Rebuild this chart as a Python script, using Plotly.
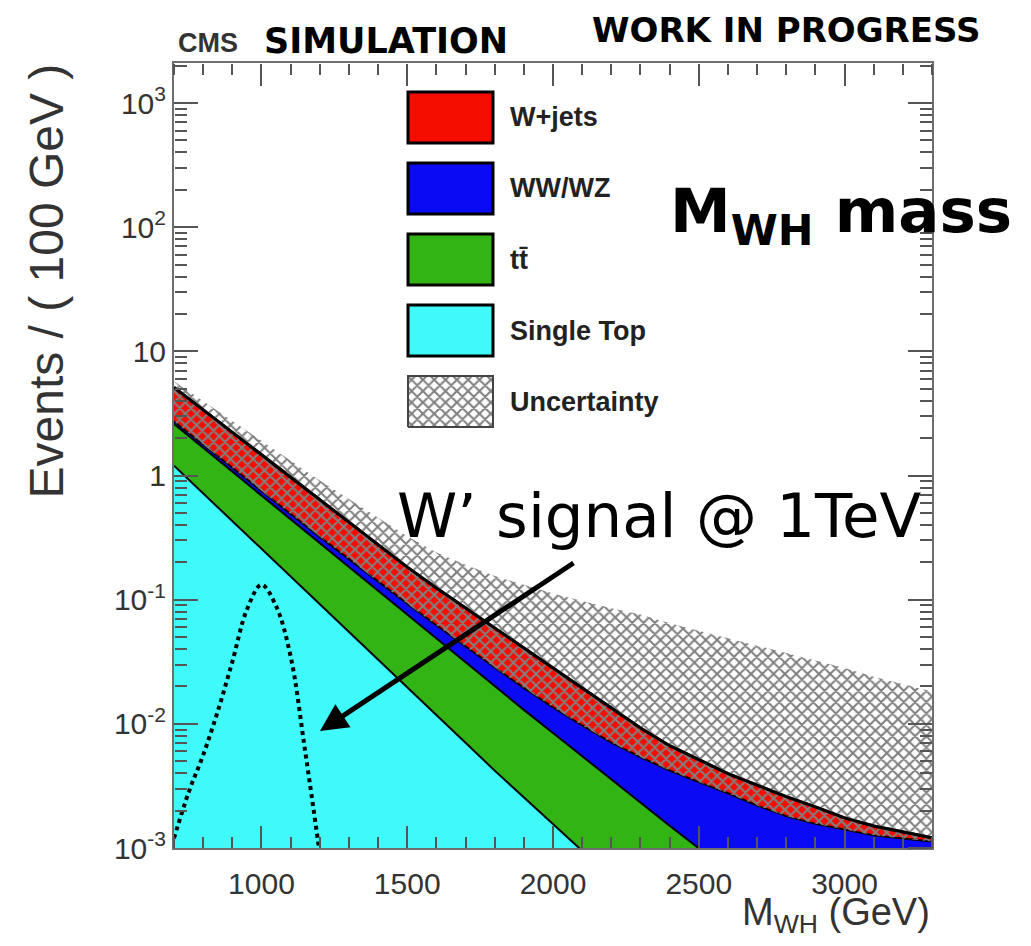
import numpy as np
import plotly.graph_objects as go

# ---------------- data ----------------
mass = [700, 800, 900, 1000, 1100, 1200, 1300, 1400, 1500, 1600, 1700, 1800, 1900,
        2000, 2100, 2200, 2300, 2400, 2500, 2600, 2700, 2800, 2900, 3000, 3100, 3200, 3300]

single_top = [1.20, 0.719, 0.430, 0.257, 0.154, 0.0919, 0.0550, 0.0329, 0.0197, 0.01175,
              0.00703, 0.00420, 0.00255, 0.00155, 0.00095, 0.00056, 0.00033, 0.00019,
              0.000115, 0.00007, 0.00004, 0.000025, 0.000015, 0.00001, 0.000006, 0.000004, 0.0000025]

ttbar = [1.40, 0.952, 0.644, 0.433, 0.290, 0.193, 0.128, 0.0849, 0.056, 0.0369, 0.0243,
         0.0159, 0.0104, 0.0069, 0.00455, 0.00300, 0.00196, 0.00132, 0.00088, 0.000560,
         0.000360, 0.000230, 0.00015, 0.00009, 0.000058, 0.000037, 0.000024]

ww_wz = [0.120, 0.0942, 0.0739, 0.0580, 0.0455, 0.0357, 0.0280, 0.0220, 0.0172, 0.0135,
         0.0106, 0.00833, 0.00654, 0.00513, 0.0042, 0.0035, 0.0031, 0.0027, 0.0024, 0.00213,
         0.0018, 0.00155, 0.0014, 0.0013, 0.0012, 0.00115, 0.0011]

w_jets = [2.41, 1.615, 1.08, 0.721, 0.479, 0.317, 0.2097, 0.1375, 0.0899, 0.0618, 0.0436,
          0.0306, 0.0213, 0.0147, 0.00989, 0.00644, 0.00388, 0.00246, 0.00178, 0.00122,
          0.00101, 0.00079, 0.00058, 0.00035, 0.00024, 0.00016, 0.00008]

# upper edge of the uncertainty band (events / 100 GeV)
unc_upper = [5.75, 3.98, 2.75, 1.91, 1.32, 0.912, 0.646, 0.457, 0.324, 0.240, 0.191, 0.155,
             0.132, 0.112, 0.0977, 0.0851, 0.0759, 0.0646, 0.0562, 0.0490, 0.0427, 0.0372,
             0.0324, 0.0282, 0.0240, 0.0209, 0.0182]

sig_mass = [700, 750, 800, 850, 900, 950, 1000, 1050, 1100, 1150, 1200]
sig_events = [0.0012, 0.0028, 0.0056, 0.0126, 0.0316, 0.083, 0.132, 0.089, 0.035, 0.0060, 0.0009]

ytick_vals = [1e-3, 1e-2, 1e-1, 1, 10, 1e2, 1e3]
ytick_text = ["10<sup>-3</sup>", "10<sup>-2</sup>", "10<sup>-1</sup>", "1", "10",
              "10<sup>2</sup>", "10<sup>3</sup>"]

legend_labels = ["W+jets", "WW/WZ", "tt\u0304", "Single Top", "Uncertainty"]
legend_colors = ["#f50d00", "#0a0af5", "#32b414", "#40fafa", None]

X_RANGE = [700, 3300]
Y_LOG_RANGE = [-3, np.log10(2100)]

# ---------------- build stack ----------------
c1 = np.array(single_top)
c2 = c1 + np.array(ttbar)
c3 = c2 + np.array(ww_wz)
c4 = c3 + np.array(w_jets)

fig = go.Figure()
base = np.full(len(mass), 1e-7)
fig.add_trace(go.Scatter(x=mass, y=base, mode="lines", line=dict(width=0), showlegend=False,
                         hoverinfo="skip"))
for top, col, w in [(c1, "#40fafa", 2), (c2, "#32b414", 2), (c3, "#0a0af5", 2), (c4, "#f50d00", 3)]:
    fig.add_trace(go.Scatter(x=mass, y=top, mode="lines", fill="tonexty", fillcolor=col,
                             line=dict(color="black", width=w), showlegend=False))

hatch = dict(shape="x", fgcolor="#808080", bgcolor="rgba(0,0,0,0)", size=8, solidity=0.45,
             fillmode="replace")
fig.add_trace(go.Scatter(x=mass, y=c3, mode="lines", line=dict(width=0), showlegend=False,
                         hoverinfo="skip"))
fig.add_trace(go.Scatter(x=mass, y=unc_upper, mode="lines", line=dict(width=0), fill="tonexty",
                         fillcolor="rgba(0,0,0,0)", fillpattern=hatch, showlegend=False))
fig.add_trace(go.Scatter(x=mass, y=c4, mode="lines", line=dict(color="black", width=3),
                         showlegend=False))

# signal
fig.add_trace(go.Scatter(x=sig_mass, y=sig_events, mode="lines", line_shape="spline",
                         line=dict(color="black", width=4, dash="dot"), showlegend=False))

# ---------------- layout ----------------
L, R, T, B = 174, 932, 63, 848
W, H = 1031, 946


def px(x):
    return (x - L) / (R - L)


def py(y):
    return (B - y) / (B - T)


def dx(x):  # pixel -> data x (legend decoration only)
    return X_RANGE[0] + px(x) * (X_RANGE[1] - X_RANGE[0])


def dy(y):  # pixel -> data y (legend decoration only)
    return 10 ** (Y_LOG_RANGE[0] + py(y) * (Y_LOG_RANGE[1] - Y_LOG_RANGE[0]))


axis_col = "#6e6e6e"
tick_col = "#555555"
tickfont = dict(family="Liberation Sans, Arial, sans-serif", size=30, color="#333333")
minor_y = [k * 10.0 ** e for e in range(-3, 4) for k in range(2, 10)]

fig.update_layout(
    template="none",
    width=W, height=H, margin=dict(l=L, r=W - R, t=T, b=H - B),
    paper_bgcolor="white", plot_bgcolor="white",
)
# main axes: labels + frame (x ticks are drawn by the tick-only axes below)
fig.update_xaxes(range=X_RANGE, tick0=0, dtick=500, ticks="", showline=True,
                 linecolor=axis_col, linewidth=2, mirror=True, showgrid=False, zeroline=False,
                 tickfont=tickfont, ticklabelstandoff=8)
fig.update_yaxes(type="log", range=Y_LOG_RANGE, tickvals=ytick_vals, ticktext=ytick_text,
                 ticks="inside", ticklen=24, tickwidth=2, tickcolor=tick_col, showline=True,
                 linecolor=axis_col, linewidth=2, mirror=True, showgrid=False,
                 zeroline=False, tickfont=tickfont)

# tick-only axes placed on the frame edges, ticks pointing into the plot
tick_only = dict(showticklabels=False, showline=False, showgrid=False, zeroline=False,
                 ticks="outside", tickwidth=2, tickcolor=tick_col, anchor="free")
fig.update_layout(
    xaxis2=dict(overlaying="x", position=0, side="top", range=X_RANGE, tick0=0, dtick=500,
                ticklen=22, **tick_only),
    xaxis3=dict(overlaying="x", position=0, side="top", range=X_RANGE, tick0=0, dtick=100,
                ticklen=11, **tick_only),
    xaxis4=dict(overlaying="x", position=1, side="bottom", range=X_RANGE, tick0=0, dtick=500,
                ticklen=22, **tick_only),
    xaxis5=dict(overlaying="x", position=1, side="bottom", range=X_RANGE, tick0=0, dtick=100,
                ticklen=11, **tick_only),
    yaxis2=dict(overlaying="y", position=0, side="right", type="log", range=Y_LOG_RANGE,
                tickvals=minor_y, ticklen=12, **tick_only),
    yaxis3=dict(overlaying="y", position=1, side="left", type="log", range=Y_LOG_RANGE,
                tickvals=ytick_vals, ticklen=24, **tick_only),
    yaxis4=dict(overlaying="y", position=1, side="left", type="log", range=Y_LOG_RANGE,
                tickvals=minor_y, ticklen=12, **tick_only),
)
for xa, ya in [("x2", "y2"), ("x3", "y3"), ("x4", "y4"), ("x5", "y2")]:
    fig.add_trace(go.Scatter(x=[X_RANGE[0]], y=[1], xaxis=xa, yaxis=ya,
                             mode="markers", marker=dict(opacity=0, size=1),
                             showlegend=False, hoverinfo="skip"))

# legend swatches
box_x0, box_x1 = px(408), px(493)
box_tops = [92, 163, 234, 305, 376]
box_h = 51
lfont = dict(family="Liberation Sans, Arial, sans-serif", size=27, color="#222222")
for lab, col, yt in zip(legend_labels, legend_colors, box_tops):
    if col is not None:
        fig.add_shape(type="rect", xref="paper", yref="paper", x0=box_x0, x1=box_x1,
                      y0=py(yt + box_h), y1=py(yt), fillcolor=col,
                      line=dict(color="black", width=3))
    else:
        fig.add_trace(go.Scatter(
            x=[dx(408), dx(493), dx(493), dx(408), dx(408)],
            y=[dy(yt + box_h), dy(yt + box_h), dy(yt), dy(yt), dy(yt + box_h)],
            mode="lines", fill="toself", fillcolor="rgba(0,0,0,0)",
            fillpattern=dict(shape="x", fgcolor="#808080", bgcolor="white", size=8,
                             solidity=0.45, fillmode="replace"),
            line=dict(color="#444444", width=2), showlegend=False, hoverinfo="skip"))
    fig.add_annotation(xref="paper", yref="paper", x=px(508), y=py(yt + box_h / 2),
                       xanchor="left", yanchor="middle", text="<b>%s</b>" % lab,
                       showarrow=False, font=lfont)

# axis titles
fig.add_annotation(xref="paper", yref="paper", x=px(932), y=py(915), xanchor="right",
                   yanchor="middle", text="M<sub>WH</sub> (GeV)", showarrow=False,
                   font=dict(family="Liberation Sans, Arial, sans-serif", size=38, color="#333333"))
fig.add_annotation(xref="paper", yref="paper", x=px(46), y=py(62), xanchor="center",
                   yanchor="top", textangle=-90, text="Events / ( 100 GeV )", showarrow=False,
                   font=dict(family="Liberation Sans, Arial, sans-serif", size=48, color="#333333"))

# header texts
fig.add_annotation(xref="paper", yref="paper", x=px(176), y=py(43), xanchor="left",
                   yanchor="middle", text="<b>CMS</b>", showarrow=False,
                   font=dict(family="Liberation Sans, Arial, sans-serif", size=27, color="#333333"))
fig.add_annotation(xref="paper", yref="paper", x=px(262), y=py(41), xanchor="left",
                   yanchor="middle", text="<b>SIMULATION</b>", showarrow=False,
                   font=dict(family="DejaVu Sans, sans-serif", size=35, color="black"))
fig.add_annotation(xref="paper", yref="paper", x=px(982), y=py(30), xanchor="right",
                   yanchor="middle", text="<b>WORK IN PROGRESS</b>", showarrow=False,
                   font=dict(family="DejaVu Sans, sans-serif", size=34, color="black"))
fig.add_annotation(xref="paper", yref="paper", x=px(668), y=py(215), xanchor="left",
                   yanchor="middle", text="<b>M<sub>WH</sub> mass</b>", showarrow=False,
                   font=dict(family="DejaVu Sans, sans-serif", size=61, color="black"))
fig.add_annotation(xref="paper", yref="paper", x=px(395), y=py(515), xanchor="left",
                   yanchor="middle", text="W\u2019 signal @ 1TeV", showarrow=False,
                   font=dict(family="DejaVu Sans, sans-serif", size=61, color="black"))

# arrow
fig.add_annotation(xref="paper", yref="paper", x=px(320), y=py(731), text="",
                   showarrow=True, ax=575 - 320, ay=562 - 731, arrowhead=2, arrowsize=1.1,
                   arrowwidth=5, arrowcolor="black")

fig.write_html("out.html")
